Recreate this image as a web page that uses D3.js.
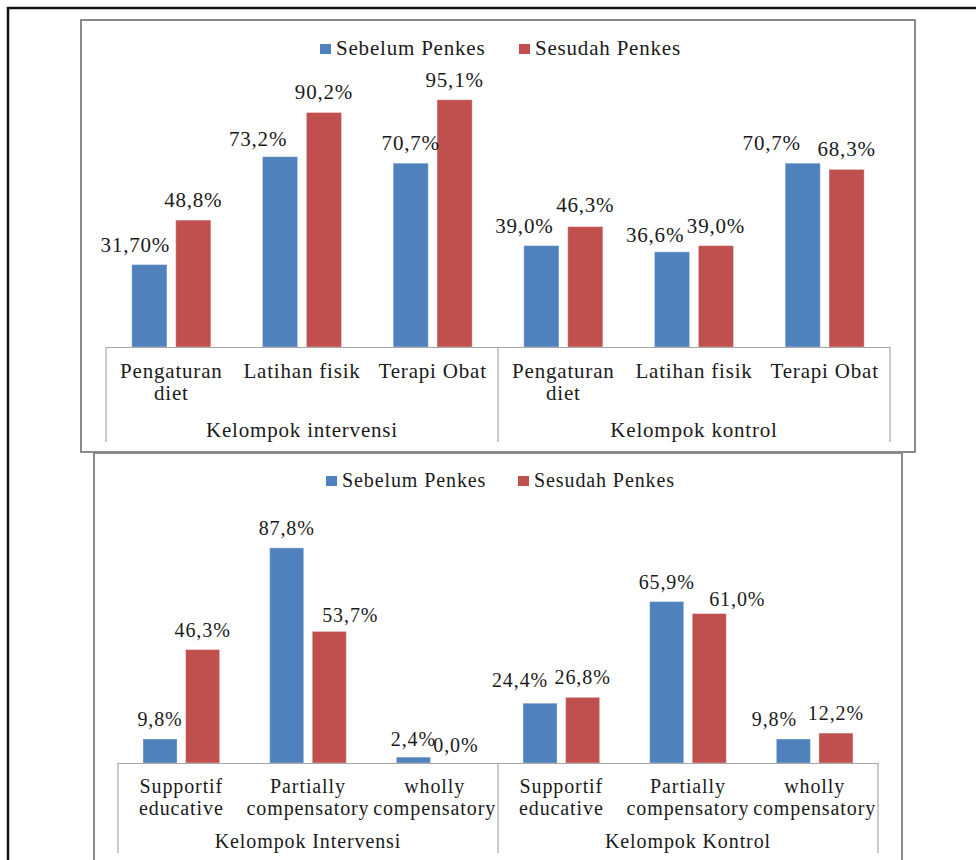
<!DOCTYPE html>
<html>
<head>
<meta charset="utf-8">
<script src="https://cdn.jsdelivr.net/npm/d3@7/dist/d3.min.js"></script>
</head>
<body style="margin:0;padding:0;background:#fff">
<svg id="chart" width="976" height="860" style="display:block" font-family="Liberation Serif"></svg>
<script>
// ---------- DATA ----------
const seriesNames = ["Sebelum Penkes", "Sesudah Penkes"];

// Chart 1
const c1Groups = ["Kelompok intervensi", "Kelompok kontrol"];
const c1Categories = [["Pengaturan", "diet"], ["Latihan fisik"], ["Terapi Obat"]];
const c1Before = [31.7, 73.2, 70.7, 39.0, 36.6, 70.7];
const c1After  = [48.8, 90.2, 95.1, 46.3, 39.0, 68.3];
const c1BeforeLabels = ["31,70%", "73,2%", "70,7%", "39,0%", "36,6%", "70,7%"];
const c1AfterLabels  = ["48,8%", "90,2%", "95,1%", "46,3%", "39,0%", "68,3%"];

// Chart 2
const c2Groups = ["Kelompok Intervensi", "Kelompok Kontrol"];
const c2Categories = [["Supportif", "educative"], ["Partially", "compensatory"], ["wholly", "compensatory"]];
const c2Before = [9.8, 87.8, 2.4, 24.4, 65.9, 9.8];
const c2After  = [46.3, 53.7, 0.0, 26.8, 61.0, 12.2];
const c2BeforeLabels = ["9,8%", "87,8%", "2,4%", "24,4%", "65,9%", "9,8%"];
const c2AfterLabels  = ["46,3%", "53,7%", "0,0%", "26,8%", "61,0%", "12,2%"];

// ---------- LABEL NUDGES (manual placement in the original) ----------
const c1BeforeNudge = [[-14, 0], [-22, 2], [0, 0], [-17, 0], [-17, 3], [-31, 0]];
const c1AfterNudge  = [[0, 0], [0, 0], [0, 0], [0, -2], [0, 0], [0, 0]];
const c2BeforeNudge = [[0, 0], [0, 0], [0, 2], [-20, -3], [0, 0], [-19, 0]];
const c2AfterNudge  = [[0, 0], [21, 4], [0, 2], [0, 0], [28, 5], [0, 0]];

// ---------- STYLE ----------
const FONT = "Liberation Serif";
const TEXT_COLOR = "#1a1a1a";
const colors = ["#4F81BD", "#C0504D"];
const svg = d3.select("#chart");

function styleText(sel, cfg) {
  return sel.attr("font-family", FONT)
    .attr("font-size", cfg.fs)
    .attr("letter-spacing", cfg.ls)
    .attr("fill", TEXT_COLOR);
}

// Outer black frame
svg.append("rect")
  .attr("x", 8).attr("y", 8).attr("width", 1000).attr("height", 900)
  .attr("fill", "none").attr("stroke", "#111").attr("stroke-width", 2.5);

function drawChart(cfg) {
  const g = svg.append("g");
  g.append("rect")
    .attr("x", cfg.box[0]).attr("y", cfg.box[1]).attr("width", cfg.box[2]).attr("height", cfg.box[3])
    .attr("fill", "#fff").attr("stroke", "#8a8a8a").attr("stroke-width", 2);

  const n = cfg.before.length;
  const idx = d3.range(n);
  const x0 = d3.scaleBand().domain(idx).range([cfg.axisL, cfg.axisR])
    .paddingInner(cfg.pad).paddingOuter(cfg.pad / 2);
  const x1 = d3.scaleBand().domain([0, 1]).range([0, x0.bandwidth()]).paddingInner(0.2);
  const y = d3.scaleLinear().domain([0, 100]).range([cfg.base, cfg.base - cfg.pxPer100]);

  const rows = idx.map(i => ({
    i,
    vals: [cfg.before[i], cfg.after[i]],
    labels: [cfg.beforeLabels[i], cfg.afterLabels[i]],
    nudges: [cfg.beforeNudge[i], cfg.afterNudge[i]]
  }));

  const cat = g.selectAll("g.cat").data(rows).join("g")
    .attr("class", "cat")
    .attr("transform", d => `translate(${x0(d.i)},0)`);

  cat.selectAll("rect").data(d => d.vals.map((v, s) => ({ v, s }))).join("rect")
    .attr("x", d => x1(d.s))
    .attr("y", d => y(d.v))
    .attr("width", x1.bandwidth())
    .attr("height", d => y(0) - y(d.v))
    .attr("fill", d => colors[d.s])
    .attr("stroke", d => d.v > 0 ? "rgba(255,255,255,0.35)" : "none")
    .attr("stroke-width", 1);

  cat.selectAll("text.val").data(d => d.vals.map((v, s) => ({ v, s, t: d.labels[s], nd: d.nudges[s] }))).join("text")
    .attr("class", "val")
    .attr("x", d => x1(d.s) + x1.bandwidth() / 2 + d.nd[0])
    .attr("y", d => y(d.v) - 13 + d.nd[1])
    .attr("text-anchor", "middle")
    .call(styleText, cfg)
    .text(d => d.t);

  const axisColor = "#a6a6a6";
  g.append("line").attr("x1", cfg.axisL).attr("x2", cfg.axisR)
    .attr("y1", cfg.base + 0.5).attr("y2", cfg.base + 0.5)
    .attr("stroke", axisColor).attr("stroke-width", 1.2);
  const groupEdges = [cfg.axisL, (cfg.axisL + cfg.axisR) / 2, cfg.axisR];
  groupEdges.forEach(xx => {
    g.append("line").attr("x1", xx).attr("x2", xx)
      .attr("y1", cfg.base).attr("y2", cfg.axisBottom)
      .attr("stroke", axisColor).attr("stroke-width", 1.2);
  });

  const cats = idx.map(i => cfg.categories[i % cfg.categories.length]);
  g.selectAll("text.cat").data(idx).join("text")
    .attr("class", "cat")
    .attr("x", i => x0(i) + x0.bandwidth() / 2)
    .attr("y", cfg.catY)
    .attr("text-anchor", "middle")
    .call(styleText, cfg)
    .each(function (i) {
      const t = d3.select(this);
      cats[i].forEach((line, k) => {
        t.append("tspan").attr("x", x0(i) + x0.bandwidth() / 2)
          .attr("dy", k === 0 ? 0 : cfg.lineH).text(line);
      });
    });

  cfg.groups.forEach((gl, k) => {
    g.append("text")
      .attr("x", (groupEdges[k] + groupEdges[k + 1]) / 2)
      .attr("y", cfg.groupY)
      .attr("text-anchor", "middle")
      .call(styleText, cfg)
      .text(gl);
  });

  const leg = g.append("g");
  seriesNames.forEach((name, s) => {
    const lx = cfg.legendX[s];
    leg.append("rect").attr("x", lx).attr("y", cfg.legendY - 11)
      .attr("width", 11).attr("height", 10).attr("fill", colors[s]);
    leg.append("text").attr("x", lx + 16).attr("y", cfg.legendY)
      .call(styleText, cfg)
      .text(name);
  });
}

drawChart({
  box: [94, 453, 808, 430],
  axisL: 118, axisR: 878, base: 763, axisBottom: 853, pxPer100: 245, pad: 0.395,
  before: c2Before, after: c2After,
  beforeLabels: c2BeforeLabels, afterLabels: c2AfterLabels,
  beforeNudge: c2BeforeNudge, afterNudge: c2AfterNudge,
  categories: c2Categories, groups: c2Groups,
  catY: 793, lineH: 22, groupY: 848,
  legendX: [326, 518], legendY: 487,
  fs: 20, ls: 0.9
});

drawChart({
  box: [81, 20, 834, 432],
  axisL: 106, axisR: 890, base: 347, axisBottom: 442, pxPer100: 260, pad: 0.395,
  before: c1Before, after: c1After,
  beforeLabels: c1BeforeLabels, afterLabels: c1AfterLabels,
  beforeNudge: c1BeforeNudge, afterNudge: c1AfterNudge,
  categories: c1Categories, groups: c1Groups,
  catY: 378, lineH: 22, groupY: 437,
  legendX: [320, 519], legendY: 55,
  fs: 21, ls: 0.8
});
</script>
</body>
</html>
